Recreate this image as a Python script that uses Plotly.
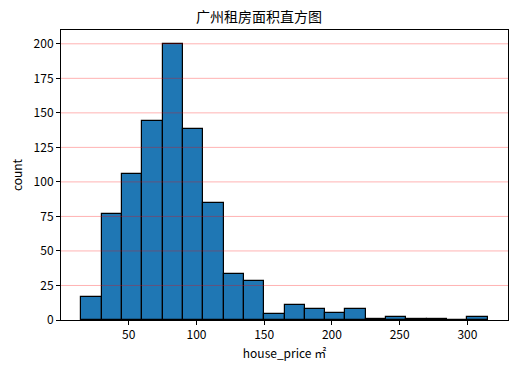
import plotly.graph_objects as go

bin_start = 15
bin_width = 15
counts = [17, 77, 106, 144, 200, 138, 85, 33, 28, 4, 11, 8, 5, 8, 1, 2, 1, 1, 0, 2]
x_ticks = [50, 100, 150, 200, 250, 300]
y_ticks = [0, 25, 50, 75, 100, 125, 150, 175, 200]

centers = [bin_start + bin_width * (i + 0.5) for i in range(len(counts))]

font = "Noto Sans CJK SC, Microsoft YaHei, sans-serif"

fig = go.Figure(go.Bar(
    x=centers, y=counts, width=[bin_width] * len(counts),
    marker=dict(color="#1f77b4", line=dict(color="black", width=1.2)),
))

# horizontal grid lines drawn above the bars (as in the reference)
for t in y_ticks[1:]:
    fig.add_shape(type="line", xref="paper", x0=0, x1=1, yref="y", y0=t, y1=t,
                  line=dict(color="rgba(255,0,0,0.3)", width=1), layer="above")

fig.update_layout(
    width=518, height=373,
    margin=dict(l=61, r=10, t=30, b=53),
    plot_bgcolor="white", paper_bgcolor="white",
    font=dict(family=font, size=12, color="black"),
    title=dict(text="广州租房面积直方图", x=0.5, xanchor="center", y=0.954, yanchor="middle",
               font=dict(size=14, family=font)),
    showlegend=False,
    bargap=0,
)
fig.update_xaxes(
    range=[0, 330], tickvals=x_ticks, ticks="outside", ticklen=4, tickcolor="black",
    showline=True, linecolor="black", linewidth=1, mirror=True, showgrid=False, zeroline=False,
    title=dict(text="house_price ㎡", standoff=8, font=dict(size=12)),
)
fig.update_yaxes(
    range=[0, 210], tickvals=y_ticks, ticks="outside", ticklen=4, tickcolor="black",
    showline=True, linecolor="black", linewidth=1, mirror=True,
    showgrid=False, zeroline=False,
    title=dict(text="count", standoff=8, font=dict(size=12)),
)

fig.write_html("out.html")
